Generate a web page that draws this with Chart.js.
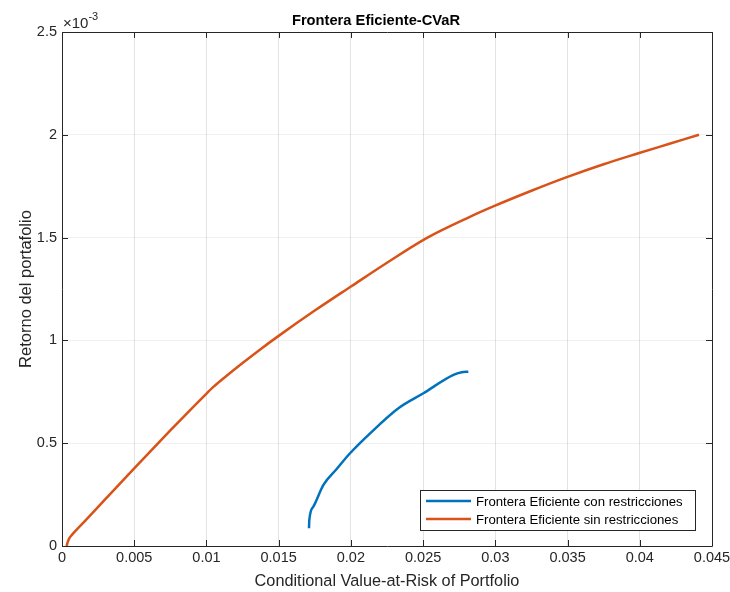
<!DOCTYPE html>
<html lang="es">
<head>
  <meta charset="utf-8" />
  <title>Frontera Eficiente-CVaR</title>
  <script src="https://cdn.jsdelivr.net/npm/chart.js@4.4.0/dist/chart.umd.min.js"></script>
  <style>
    html, body { margin: 0; padding: 0; background: #fff; }
    #wrap { width: 730px; height: 592px; }
  </style>
</head>
<body>
  <div id="wrap"><canvas id="cvar"></canvas></div>

  <script>
    // ticks
    const xTicks = [0, 0.005, 0.01, 0.015, 0.02, 0.025, 0.03, 0.035, 0.04, 0.045];
    const yTicks = [0, 0.5, 1, 1.5, 2, 2.5]; // x 10^-3

    // frontera con restricciones (azul)
    const conX = [0.0171, 0.01712, 0.0174, 0.0181, 0.0190, 0.01994, 0.02133, 0.02329, 0.02502, 0.0271, 0.02767, 0.02813];
    const conY = [0.086, 0.126, 0.191, 0.297, 0.373, 0.451, 0.548, 0.670, 0.743, 0.832, 0.845, 0.848];

    // frontera sin restricciones (naranja)
    const sinX = [0.00032, 0.0004, 0.0005, 0.00067, 0.0015, 0.003, 0.005, 0.0075, 0.0099, 0.0105, 0.0114, 0.0125, 0.0137, 0.015,
      0.0175, 0.02, 0.0225, 0.0253, 0.0282, 0.0299, 0.0325, 0.0349, 0.0375, 0.0399, 0.042, 0.0441];
    const sinY = [0, 0.02, 0.037, 0.053, 0.115, 0.228, 0.378, 0.562, 0.734, 0.775, 0.828, 0.89, 0.955, 1.022,
      1.145, 1.262, 1.378, 1.5, 1.6, 1.653, 1.728, 1.793, 1.857, 1.91, 1.955, 2.0];

    const titleText = "Frontera Eficiente-CVaR";
    const seriesNames = ["Frontera Eficiente con restricciones", "Frontera Eficiente sin restricciones"];
    const seriesColors = ["#0072BD", "#D95319"];

    const toPoints = (xs, ys) => xs.map((x, i) => ({ x: x, y: ys[i] }));
    const fmt = (v) => String(Number(v.toFixed(4)));

    const axisColor = "#262626";
    const fontFam = "'Liberation Sans', Arial, Helvetica, sans-serif";

    // title, box, inward ticks, exponent and legend (MATLAB look)
    const matlabAxes = {
      id: "matlabAxes",
      afterDraw(chart) {
        const ctx = chart.ctx;
        const a = chart.chartArea;
        const xs = chart.scales.x, ys = chart.scales.y;
        ctx.save();

        // title
        ctx.fillStyle = "#000";
        ctx.font = "bold 14.7px " + fontFam;
        ctx.textAlign = "center";
        ctx.textBaseline = "alphabetic";
        ctx.fillText(titleText, 376, 25);

        ctx.strokeStyle = axisColor;
        ctx.lineWidth = 1;
        ctx.beginPath();
        ctx.rect(Math.round(a.left) + 0.5, Math.round(a.top) + 0.5,
          Math.round(a.right - a.left), Math.round(a.bottom - a.top));
        ctx.stroke();

        const tl = 6;
        ctx.beginPath();
        xTicks.forEach(t => {
          const px = Math.round(xs.getPixelForValue(t)) + 0.5;
          ctx.moveTo(px, a.bottom); ctx.lineTo(px, a.bottom - tl);
          ctx.moveTo(px, a.top); ctx.lineTo(px, a.top + tl);
        });
        yTicks.forEach(t => {
          const py = Math.round(ys.getPixelForValue(t)) + 0.5;
          ctx.moveTo(a.left, py); ctx.lineTo(a.left + tl, py);
          ctx.moveTo(a.right, py); ctx.lineTo(a.right - tl, py);
        });
        ctx.stroke();

        // exponent
        ctx.fillStyle = axisColor;
        ctx.textAlign = "left";
        ctx.font = "15px " + fontFam;
        ctx.fillText("\u00d710", a.left + 1, a.top - 4);
        const w = ctx.measureText("\u00d710").width;
        ctx.font = "11px " + fontFam;
        ctx.fillText("-3", a.left + 1 + w, a.top - 12);

        // legend
        const lx = 420, ly = 490, lw = 275, lh = 40;
        ctx.fillStyle = "#fff";
        ctx.fillRect(lx, ly, lw, lh);
        ctx.strokeStyle = axisColor;
        ctx.strokeRect(lx + 0.5, ly + 0.5, lw, lh);
        ctx.font = "13.2px " + fontFam;
        ctx.textBaseline = "middle";
        chart.data.datasets.forEach((ds, i) => {
          const yy = ly + 11 + i * 18;
          ctx.strokeStyle = ds.borderColor;
          ctx.lineWidth = 2.5;
          ctx.beginPath();
          ctx.moveTo(lx + 6, yy); ctx.lineTo(lx + 51, yy);
          ctx.stroke();
          ctx.fillStyle = "#000";
          ctx.fillText(ds.label, lx + 56, yy + 1);
        });
        ctx.restore();
      }
    };

    new Chart(document.getElementById("cvar"), {
      type: "scatter",
      plugins: [matlabAxes],
      data: {
        datasets: [
          {
            label: seriesNames[0],
            data: toPoints(conX, conY),
            showLine: true,
            borderColor: seriesColors[0],
            borderWidth: 2.5,
            pointRadius: 0,
            cubicInterpolationMode: "monotone"
          },
          {
            label: seriesNames[1],
            data: toPoints(sinX, sinY),
            showLine: true,
            borderColor: seriesColors[1],
            borderWidth: 2.5,
            pointRadius: 0,
            cubicInterpolationMode: "monotone"
          }
        ]
      },
      options: {
        responsive: true,
        maintainAspectRatio: false,
        animation: false,
        layout: { padding: { left: 0, right: 18, top: 32, bottom: 0 } },
        plugins: {
          legend: { display: false },
          tooltip: { enabled: false },
          title: { display: false }
        },
        scales: {
          x: {
            type: "linear",
            min: 0,
            max: 0.045,
            afterBuildTicks: (s) => { s.ticks = xTicks.map(v => ({ value: v })); },
            afterFit: (s) => { s.height = 46; s.paddingLeft = 0; s.paddingRight = 0; },
            ticks: {
              color: axisColor,
              font: { family: fontFam, size: 14.5 },
              padding: 3,
              maxRotation: 0,
              callback: (v) => fmt(v)
            },
            grid: { color: "rgba(38,38,38,0.13)", drawTicks: false },
            border: { display: false },
            title: {
              display: true,
              text: "Conditional Value-at-Risk of Portfolio",
              color: axisColor,
              font: { family: fontFam, size: 16.3 },
              padding: { top: 0, bottom: 1 }
            }
          },
          y: {
            type: "linear",
            min: 0,
            max: 2.5,
            afterBuildTicks: (s) => { s.ticks = yTicks.map(v => ({ value: v })); },
            afterFit: (s) => { s.width = 62; s.paddingTop = 0; s.paddingBottom = 0; },
            ticks: {
              color: axisColor,
              font: { family: fontFam, size: 14.5 },
              padding: 5,
              callback: (v) => fmt(v)
            },
            grid: { color: "rgba(38,38,38,0.07)", drawTicks: false },
            border: { display: false },
            title: {
              display: true,
              text: "Retorno del portafolio",
              color: axisColor,
              font: { family: fontFam, size: 16.5 },
              padding: { top: 17, bottom: 0 }
            }
          }
        }
      }
    });
  </script>
</body>
</html>
